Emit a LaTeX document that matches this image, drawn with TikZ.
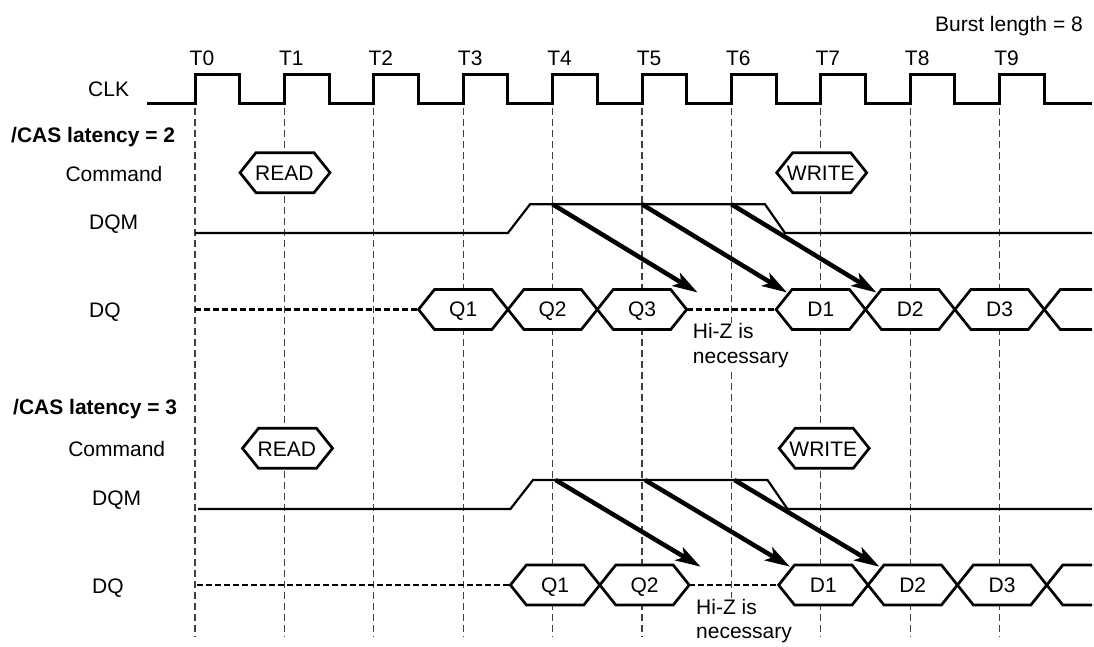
\documentclass[tikz,border=0pt]{standalone}
\usepackage{fontspec}
\setmainfont{Liberation Sans}
\usetikzlibrary{arrows.meta}
\newcommand\tx[1]{(195+89.4*(#1))}
\newcommand\hexseg[3]{\draw[hexl] ({#1},{#3}) -- ({#1+16},{#3-20}) -- ({#2-16},{#3-20}) -- ({#2},{#3}) -- ({#2-16},{#3+20}) -- ({#1+16},{#3+20}) -- cycle;}
\tikzset{
  clk/.style={line width=3pt, line join=miter},
  tline/.style={line width=1.3pt, black!75, dash pattern=on 7pt off 4pt},
  dqm/.style={line width=2.2pt, line join=miter},
  hiz/.style={line width=2.3pt, dash pattern=on 6pt off 3pt},
  hexl/.style={line width=2.7pt, line join=miter, fill=white},
  bigarrow/.style={line width=4.5pt, -{Stealth[length=25pt,width=15pt,inset=6pt]}},
  lbl/.style={font=\fontsize{21}{24.5}\selectfont, inner sep=0pt, anchor=base west},
  lblc/.style={font=\fontsize{21}{24.5}\selectfont, inner sep=0pt, anchor=base},
  hizl/.style={font=\fontsize{21}{24.5}\selectfont, inner sep=1pt, fill=white, anchor=base west, align=left},
}
\begin{document}
\begin{tikzpicture}[x=1pt,y=-1pt]
\useasboundingbox (0,0) rectangle (1094,646);

% time lines
\foreach \k in {0,...,9} {
  \draw[tline] ({\tx{\k}},108) -- ({\tx{\k}},637);
  \node[lblc] (t\k) at ({\tx{\k}+7},65) {T\k};
}

% header labels
\node[lbl, anchor=base east] (burst) at (1083,31) {Burst length = 8};
\node[lbl] (clklbl) at (88,96) {CLK};

% clock
\draw[clk] (147,103) foreach \k in {0,...,9} { -- ({\tx{\k}},103) -- ({\tx{\k}},74.5) -- ({\tx{\k}+44.7},74.5) -- ({\tx{\k}+44.7},103) } -- (1092,103);

% ===== CAS latency 2 =====
\node[lbl, font=\fontsize{21}{24.5}\selectfont\bfseries] (cas2) at (11,142.5) {/CAS latency = 2};
\node[lblc] (cmd2) at (114,181.5) {Command};
\node[lbl] (dqm2) at (89,229) {DQM};
\node[lbl] (dq2) at (89,317) {DQ};

\hexseg{240}{330}{172.7}
\node[lblc] (read2) at ({\tx{1}},180.7) {READ};
\hexseg{776.7}{866.7}{172.7}
\node[lblc] (write2) at ({\tx{7}},180.7) {WRITE};

\draw[dqm] (195,233) -- ({\tx{3.5}},233) -- (530,204.3) -- (765,204.3) -- (785,233) -- (1092,233);

\node[hizl] (hiza) at (691.7,363.3) {Hi-Z is\\necessary};
\draw[hiz] (195,309.5) -- ({\tx{2.5}},309.5);
\draw[hiz] ({\tx{5.5}},309.5) -- ({\tx{6.5}},309.5);
\hexseg{\tx{2.5}}{\tx{3.5}}{309.5}
\hexseg{\tx{3.5}}{\tx{4.5}}{309.5}
\hexseg{\tx{4.5}}{\tx{5.5}}{309.5}
\hexseg{\tx{6.5}}{\tx{7.5}}{309.5}
\hexseg{\tx{7.5}}{\tx{8.5}}{309.5}
\hexseg{\tx{8.5}}{\tx{9.5}}{309.5}
\draw[hexl, fill=none] (1092,289.5) -- ({\tx{9.5}+16},289.5) -- ({\tx{9.5}},309.5) -- ({\tx{9.5}+16},329.5) -- (1092,329.5);
\node[lblc] (q1a) at ({\tx{3}},316.5) {Q1};
\node[lblc] (q2a) at ({\tx{4}},316.5) {Q2};
\node[lblc] (q3a) at ({\tx{5}},316.5) {Q3};
\node[lblc] (d1a) at ({\tx{7}},316.5) {D1};
\node[lblc] (d2a) at ({\tx{8}},316.5) {D2};
\node[lblc] (d3a) at ({\tx{9}},316.5) {D3};

\foreach \k [count=\i] in {4,5,6} {
  \coordinate (as\i) at ({\tx{\k}},204.3);
  \coordinate (ae\i) at ({\tx{\k}+145},292.5);
  \draw[bigarrow] (as\i) -- (ae\i);
}

% ===== CAS latency 3 =====
\node[lbl, font=\fontsize{21}{24.5}\selectfont\bfseries] (cas3) at (13,414) {/CAS latency = 3};
\node[lblc] (cmd3) at (116.7,456) {Command};
\node[lbl] (dqm3) at (92,505) {DQM};
\node[lbl] (dq3) at (92,593) {DQ};

\hexseg{242.5}{332.5}{448.3}
\node[lblc] (read3) at ({\tx{1}+2.5},456) {READ};
\hexseg{779.2}{869.2}{448.3}
\node[lblc] (write3) at ({\tx{7}+2.5},456) {WRITE};

\draw[dqm] (198,509) -- ({\tx{3.5}+2.5},509) -- (533,480) -- (767.5,480) -- (787.5,509) -- (1092,509);

\node[hizl] (hizb) at (695,638.5) {Hi-Z is\\necessary};
\draw[hiz] (197,585) -- ({\tx{3.5}+2.5},585);
\draw[hiz] ({\tx{5.5}+2.5},585) -- ({\tx{6.5}+2.5},585);
\hexseg{\tx{3.5}+2.5}{\tx{4.5}+2.5}{585}
\hexseg{\tx{4.5}+2.5}{\tx{5.5}+2.5}{585}
\hexseg{\tx{6.5}+2.5}{\tx{7.5}+2.5}{585}
\hexseg{\tx{7.5}+2.5}{\tx{8.5}+2.5}{585}
\hexseg{\tx{8.5}+2.5}{\tx{9.5}+2.5}{585}
\draw[hexl, fill=none] (1092,565) -- ({\tx{9.5}+18.5},565) -- ({\tx{9.5}+2.5},585) -- ({\tx{9.5}+18.5},605) -- (1092,605);
\node[lblc] (q1b) at ({\tx{4}+2.5},592) {Q1};
\node[lblc] (q2b) at ({\tx{5}+2.5},592) {Q2};
\node[lblc] (d1b) at ({\tx{7}+2.5},592) {D1};
\node[lblc] (d2b) at ({\tx{8}+2.5},592) {D2};
\node[lblc] (d3b) at ({\tx{9}+2.5},592) {D3};

\foreach \k [count=\i] in {4,5,6} {
  \coordinate (bs\i) at ({\tx{\k}+3},480);
  \coordinate (be\i) at ({\tx{\k}+148},566.7);
  \draw[bigarrow] (bs\i) -- (be\i);
}
\end{tikzpicture}
\end{document}
